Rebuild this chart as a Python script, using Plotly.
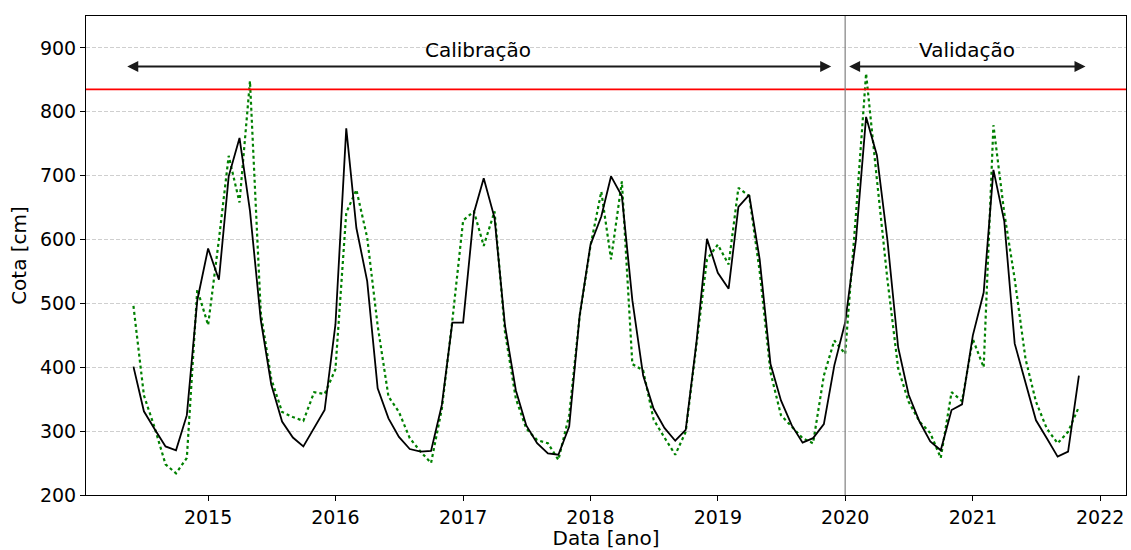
import pandas as pd
import plotly.graph_objects as go

# Monthly series, June 2014 .. November 2021
dates = pd.date_range("2014-06-01", periods=90, freq="MS")

observado = [
    401, 331, 303, 276, 270, 325, 505,                          # 2014 (Jun-Dec)
    586, 537, 699, 759, 645, 474, 373, 315, 290, 276, 304, 333,  # 2015
    467, 774, 618, 535, 367, 320, 291, 272, 268, 269, 341, 470,  # 2016
    470, 642, 696, 634, 465, 364, 309, 281, 265, 263, 307, 481,  # 2017
    592, 636, 699, 668, 505, 387, 335, 305, 285, 302, 440, 601,  # 2018
    548, 523, 651, 670, 569, 405, 348, 309, 282, 289, 311, 403,  # 2019
    470, 600, 792, 732, 600, 431, 357, 315, 284, 270, 333, 342,  # 2020
    450, 517, 709, 629, 437, 377, 317, 289, 260, 268, 387,       # 2021 (Jan-Nov)
]

simulado = [
    496, 356, 305, 248, 234, 258, 522,
    466, 600, 731, 658, 848, 485, 382, 330, 322, 316, 361, 358,
    397, 642, 678, 603, 465, 354, 330, 289, 268, 250, 335, 473,
    630, 644, 590, 644, 455, 351, 304, 286, 281, 255, 325, 480,
    590, 675, 569, 691, 405, 395, 318, 290, 263, 299, 437, 569,
    592, 561, 681, 668, 550, 392, 325, 307, 289, 281, 387, 442,
    421, 640, 860, 694, 538, 398, 346, 315, 297, 258, 361, 347,
    444, 400, 779, 642, 538, 413, 346, 304, 281, 299, 338,
]

cota_limite = 835
inicio_validacao = "2020-01-01"

periodos = [
    ("Calibração", "2014-05-10", "2019-11-22"),
    ("Validação", "2020-01-08", "2021-11-20"),
]

year_ticks = [f"{y}-01-01" for y in range(2015, 2023)]
year_labels = [str(y) for y in range(2015, 2023)]
y_ticks = list(range(200, 1000, 100))

FONT = "DejaVu Sans"
FS = 20
FS_TICK = 19

fig = go.Figure()

fig.add_trace(go.Scatter(
    x=dates, y=simulado, mode="lines",
    line=dict(color="#008000", width=2.2, dash="dot"),
    name="Simulado", showlegend=False,
))
fig.add_trace(go.Scatter(
    x=dates, y=observado, mode="lines",
    line=dict(color="#000000", width=1.8),
    name="Observado", showlegend=False,
))

# threshold level
fig.add_shape(type="line", xref="paper", yref="y", x0=0, x1=1,
              y0=cota_limite, y1=cota_limite,
              line=dict(color="#ff0000", width=1.8))

# split between calibration and validation
fig.add_shape(type="line", xref="x", yref="paper",
              x0=inicio_validacao, x1=inicio_validacao, y0=0, y1=1,
              line=dict(color="#808080", width=1.2))

for rotulo, x_ini, x_fim in periodos:
    fig.add_annotation(
        x=x_fim, y=871, ax=x_ini, ay=871, xref="x", yref="y",
        axref="x", ayref="y", text="", showarrow=True,
        arrowhead=2, arrowside="end+start", arrowsize=1.1,
        arrowwidth=2, arrowcolor="#1a1a1a",
    )
    meio = pd.Timestamp(x_ini) + (pd.Timestamp(x_fim) - pd.Timestamp(x_ini)) / 2
    fig.add_annotation(
        x=meio, y=896, xref="x", yref="y", text=rotulo,
        showarrow=False, yanchor="middle",
        font=dict(family=FONT, size=FS, color="#000000"),
    )

axis_common = dict(
    showline=True, linecolor="#000000", linewidth=1, mirror=True,
    ticks="outside", ticklen=5, tickwidth=1, tickcolor="#000000",
    tickfont=dict(family=FONT, size=FS_TICK, color="#000000"),
    zeroline=False,
)

fig.update_xaxes(
    range=["2014-01-16", "2022-03-16"],
    tickvals=year_ticks, ticktext=year_labels,
    showgrid=False,
    title=dict(text="Data [ano]", font=dict(family=FONT, size=FS, color="#000000"),
               standoff=4),
    **axis_common,
)
fig.update_yaxes(
    range=[200, 950],
    tickvals=y_ticks,
    showgrid=True, gridcolor="#cfcfcf", gridwidth=0.7, griddash="4px,2px",
    title=dict(text="Cota [cm]", font=dict(family=FONT, size=FS, color="#000000"),
               standoff=7),
    **axis_common,
)

fig.update_layout(
    width=1131, height=550,
    margin=dict(l=86, r=4, t=16, b=53),
    plot_bgcolor="#ffffff", paper_bgcolor="#ffffff",
    font=dict(family=FONT),
)

fig.write_html("out.html")
